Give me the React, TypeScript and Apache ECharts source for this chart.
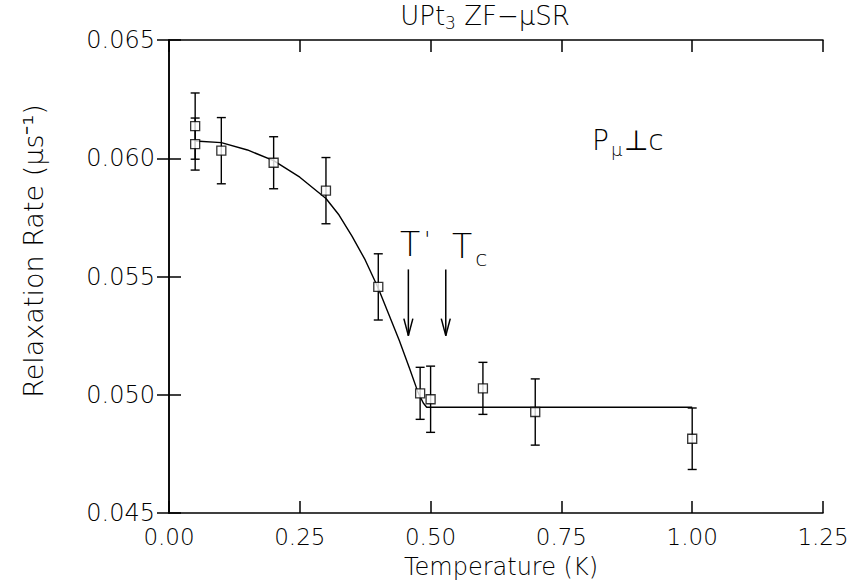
import React, { useEffect, useRef } from "react";
import * as echarts from "echarts";

// Measured data (Temperature in K, relaxation rate in µs^-1)
const temps = [0.05, 0.05, 0.10, 0.20, 0.30, 0.40, 0.48, 0.50, 0.60, 0.70, 1.00];
const rates = [0.06136, 0.0606, 0.06032, 0.05981, 0.05863, 0.05456, 0.05006, 0.04981, 0.05027, 0.04927, 0.04814];
const errors = [0.0014, 0.0011, 0.0014, 0.0011, 0.0014, 0.0014, 0.0011, 0.0014, 0.0011, 0.0014, 0.0013];

// Fit curve
const fitT = [0.05, 0.10, 0.15, 0.20, 0.25, 0.30, 0.325, 0.35, 0.375, 0.40, 0.42, 0.44, 0.46, 0.476, 0.486, 0.4925, 1.0];
const fitRate = [0.06073, 0.06066, 0.06035, 0.0599, 0.0592, 0.0583, 0.0576, 0.0567, 0.0557, 0.0545, 0.0534, 0.0523, 0.0511, 0.0501, 0.04965, 0.04947, 0.04947];

// Transition arrows (T', Tc)
const arrowT = [0.4575, 0.529];
const arrowTop = [0.0553, 0.0553];
const arrowBottom = [0.0525, 0.0525];

// Axis ranges / ticks
const xMin = 0, xMax = 1.25, xStep = 0.25;
const yMin = 0.045, yMax = 0.065, yStep = 0.005;

const FONT = "DejaVu Sans";
const FW = 200;
const INK = "#000";

export default function App() {
  const ref = useRef<HTMLDivElement>(null);
  useEffect(() => {
    if (!ref.current) return;
    const chart = echarts.init(ref.current, undefined, { renderer: "svg" });
    const axisCommon = {
      axisLine: { show: true, lineStyle: { color: "#000", width: 1.5 } },
      axisTick: { show: true, inside: true, length: 12, lineStyle: { color: "#000", width: 1.5 } },
      splitLine: { show: false },
    };
    const option: any = {
      animation: false,
      backgroundColor: "#fff",
      grid: { left: 169, right: 36, top: 40, bottom: 68, containLabel: false },
      xAxis: [
        {
          type: "value", min: xMin, max: xMax, interval: xStep, position: "bottom",
          ...axisCommon,
          axisLabel: { fontFamily: FONT, fontWeight: FW, fontSize: 23, color: INK, margin: 12, formatter: (v: number) => v.toFixed(2) },
        },
        {
          type: "value", min: xMin, max: xMax, interval: xStep, position: "top",
          ...axisCommon, axisLabel: { show: false },
        },
      ],
      yAxis: [
        {
          type: "value", min: yMin, max: yMax, interval: yStep, position: "left",
          ...axisCommon,
          axisLabel: { fontFamily: FONT, fontWeight: FW, fontSize: 24, color: INK, margin: 14, formatter: (v: number) => v.toFixed(3) },
        },
        {
          type: "value", min: yMin, max: yMax, interval: yStep, position: "right",
          ...axisCommon, axisLabel: { show: false },
        },
      ],
      series: [
        {
          type: "line",
          data: fitT.map((t, i) => [t, fitRate[i]]),
          showSymbol: false,
          smooth: false,
          lineStyle: { color: "#000", width: 1.4 },
          z: 1,
        },
        {
          type: "custom",
          data: temps.map((t, i) => [t, rates[i], errors[i]]),
          encode: { x: 0, y: 1 },
          z: 2,
          renderItem: (params: any, api: any) => {
            const x = api.value(0), y = api.value(1), e = api.value(2);
            const top = api.coord([x, y + e]);
            const bot = api.coord([x, y - e]);
            const hw = 4.5;
            const st = { stroke: "#000", lineWidth: 1.4 };
            return {
              type: "group",
              children: [
                { type: "line", shape: { x1: top[0], y1: top[1], x2: bot[0], y2: bot[1] }, style: st },
                { type: "line", shape: { x1: top[0] - hw, y1: top[1], x2: top[0] + hw, y2: top[1] }, style: st },
                { type: "line", shape: { x1: bot[0] - hw, y1: bot[1], x2: bot[0] + hw, y2: bot[1] }, style: st },
              ],
            };
          },
        },
        {
          type: "scatter",
          data: temps.map((t, i) => [t, rates[i]]),
          symbol: "rect",
          symbolSize: 9,
          itemStyle: { color: "#fff", borderColor: "#000", borderWidth: 1.3 },
          z: 3,
        },
        {
          type: "custom",
          data: arrowT.map((t, i) => [t, arrowTop[i], arrowBottom[i]]),
          encode: { x: 0, y: [1, 2] },
          z: 4,
          renderItem: (params: any, api: any) => {
            const x = api.value(0);
            const a = api.coord([x, api.value(1)]);
            const b = api.coord([x, api.value(2)]);
            const st = { stroke: "#000", lineWidth: 1.5 };
            return {
              type: "group",
              children: [
                { type: "line", shape: { x1: a[0], y1: a[1], x2: b[0], y2: b[1] }, style: st },
                { type: "line", shape: { x1: b[0] - 4.5, y1: b[1] - 17, x2: b[0], y2: b[1] }, style: st },
                { type: "line", shape: { x1: b[0] + 4.5, y1: b[1] - 17, x2: b[0], y2: b[1] }, style: st },
              ],
            };
          },
        },
      ],
      graphic: [
        {
          type: "text", x: 485, y: 16,
          style: {
            text: "UPt{sub|3} ZF−μSR",
            fontFamily: FONT, fontWeight: FW, fontSize: 26, fill: INK, align: "center", verticalAlign: "middle",
            rich: {
              sub: { fontFamily: FONT, fontWeight: FW, fontSize: 17, fill: INK, padding: [14, 0, 0, 0] },
            },
          },
        },
        {
          type: "text", x: 501, y: 567,
          style: { text: "Temperature (K)", fontFamily: FONT, fontWeight: FW, fontSize: 24, fill: INK, align: "center", verticalAlign: "middle" },
        },
        {
          type: "text", x: 33, y: 251, rotation: Math.PI / 2,
          style: {
            text: "Relaxation Rate (μs⁻¹)",
            fontFamily: FONT, fontWeight: FW, fontSize: 27, fill: INK, align: "center", verticalAlign: "middle",
          },
        },
        {
          type: "text", x: 400, y: 244,
          style: {
            text: "T{p|'}", fontFamily: FONT, fontWeight: FW, fontSize: 33, fill: INK, align: "left", verticalAlign: "middle",
            rich: { p: { fontFamily: FONT, fontWeight: FW, fontSize: 22, fill: INK, padding: [0, 0, 10, 4] } },
          },
        },
        {
          type: "text", x: 452, y: 246,
          style: {
            text: "T{sub|c}", fontFamily: FONT, fontWeight: FW, fontSize: 33, fill: INK, align: "left", verticalAlign: "middle",
            rich: { sub: { fontFamily: FONT, fontWeight: FW, fontSize: 22, fill: INK, padding: [24, 0, 0, 3] } },
          },
        },
        {
          type: "text", x: 592, y: 140,
          style: {
            text: "P{mu|μ}⊥c", fontFamily: FONT, fontWeight: FW, fontSize: 28, fill: INK, align: "left", verticalAlign: "middle",
            rich: { mu: { fontFamily: FONT, fontWeight: FW, fontSize: 18, fill: INK, padding: [18, 2, 0, 2] } },
          },
        },
      ],
    };
    chart.setOption(option);
    return () => chart.dispose();
  }, []);
  return <div ref={ref} style={{ position: "fixed", left: 0, top: 0, width: 859, height: 581 }} />;
}
